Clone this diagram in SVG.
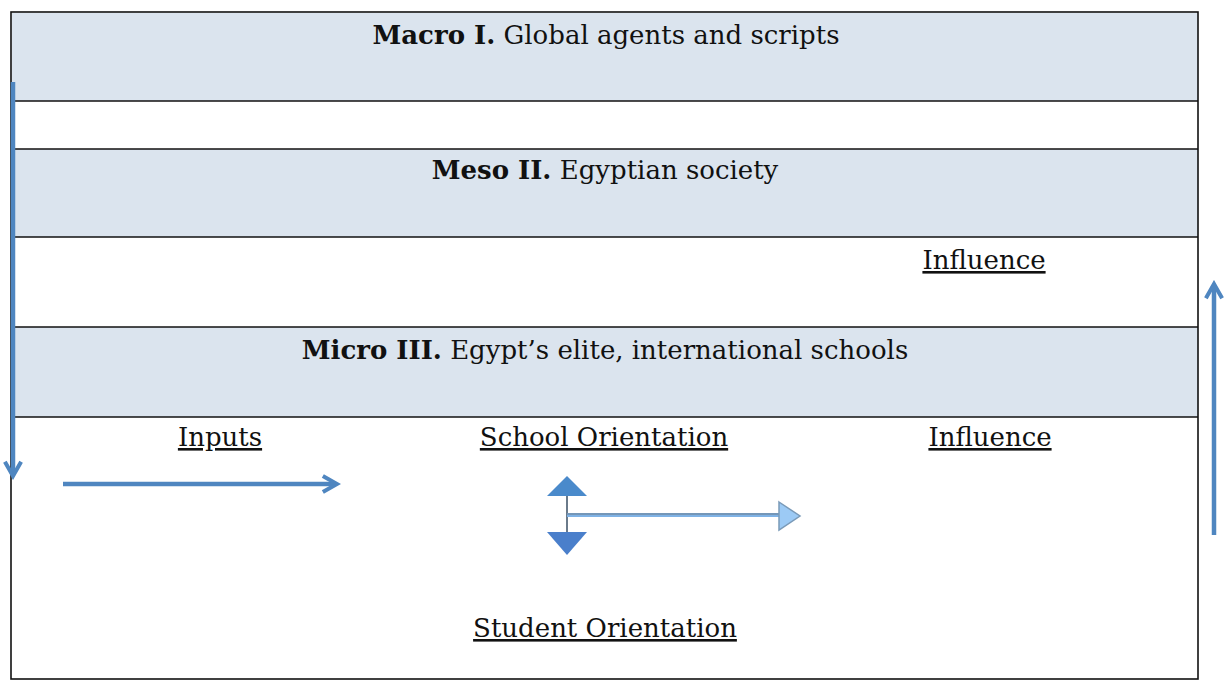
<svg xmlns="http://www.w3.org/2000/svg" width="1225" height="684" viewBox="0 0 1225 684">
  <defs>
    <style>
      .band { fill: #dbe4ee; }
      .rule { stroke: #111; stroke-width: 1.6; fill: none; }
      .title { font-family: "DejaVu Serif", "Liberation Serif", serif; font-size: 26px; fill: #111; text-anchor: middle; }
      .title .b { font-weight: bold; }
      .lbl { font-family: "DejaVu Serif", "Liberation Serif", serif; font-size: 26px; fill: #111; text-anchor: middle; text-decoration: underline; }
      .arr { stroke: #4f86c0; stroke-width: 4.5; fill: none; }
    </style>
    <marker id="head" viewBox="0 0 10 10" refX="7" refY="5" markerWidth="4.5" markerHeight="4.5" orient="auto">
      <path d="M1,1 L8,5 L1,9" fill="none" stroke="#4f86c0" stroke-width="2"/>
    </marker>
  </defs>
  <rect width="1225" height="684" fill="#fff"/>

  <!-- shaded layers -->
  <g id="macro">
    <rect class="band" x="12" y="13" width="1186" height="88"/>
    <text class="title" x="606" y="44"><tspan class="b">Macro I.</tspan> Global agents and scripts</text>
  </g>
  <g id="meso">
    <rect class="band" x="12" y="149" width="1186" height="88"/>
    <text class="title" x="605" y="179"><tspan class="b">Meso II.</tspan> Egyptian society</text>
  </g>
  <g id="micro">
    <rect class="band" x="12" y="327" width="1186" height="90"/>
    <text class="title" x="605" y="359"><tspan class="b">Micro III.</tspan> Egypt’s elite, international schools</text>
  </g>

  <!-- frame and layer dividers -->
  <g id="frame">
    <rect class="rule" x="11" y="12" width="1187" height="667"/>
    <line class="rule" x1="11" y1="101" x2="1198" y2="101"/>
    <line class="rule" x1="11" y1="149" x2="1198" y2="149"/>
    <line class="rule" x1="11" y1="237" x2="1198" y2="237"/>
    <line class="rule" x1="11" y1="327" x2="1198" y2="327"/>
    <line class="rule" x1="11" y1="417" x2="1198" y2="417"/>
  </g>

  <!-- labels -->
  <g id="influence-top"><text class="lbl" x="984" y="269">Influence</text></g>
  <g id="inputs"><text class="lbl" x="220" y="446">Inputs</text></g>
  <g id="school-orientation"><text class="lbl" x="604" y="446">School Orientation</text></g>
  <g id="influence-bottom"><text class="lbl" x="990" y="446">Influence</text></g>
  <g id="student-orientation"><text class="lbl" x="605" y="637">Student Orientation</text></g>

  <!-- connectors -->
  <g id="connectors">
    <line class="arr" x1="13" y1="82" x2="13" y2="474" marker-end="url(#head)"/>
    <line class="arr" x1="1214" y1="535" x2="1214" y2="286" marker-end="url(#head)"/>
    <line class="arr" x1="63" y1="484" x2="335" y2="484" marker-end="url(#head)"/>
    <line x1="567" y1="495" x2="567" y2="533" stroke="#6a7a8a" stroke-width="2"/>
    <polygon points="567,476 587,496 547,496" fill="#4a8acb"/>
    <polygon points="547,532 587,532 567,555" fill="#4a7fcb"/>
    <line x1="567" y1="515" x2="779" y2="515" stroke="#7fb2e5" stroke-width="4"/>
    <line x1="567" y1="514" x2="779" y2="514" stroke="#6a7a8a" stroke-width="1"/>
    <polygon points="779,502 800,516 779,530" fill="#9ccaf5" stroke="#7a9ab8" stroke-width="1.5"/>
  </g>
</svg>
